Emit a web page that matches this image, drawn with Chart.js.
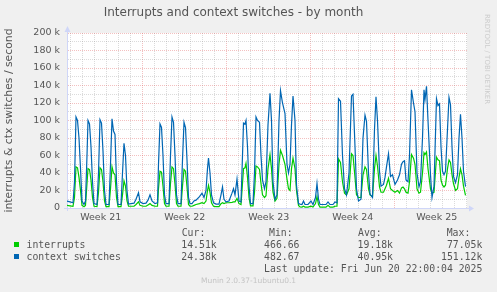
<!DOCTYPE html>
<html><head><meta charset="utf-8">
<script src="https://cdn.jsdelivr.net/npm/chart.js@4.4.1/dist/chart.umd.min.js"></script>
<style>
html,body{margin:0;padding:0;background:#f0f0f0;}
#wrap{position:relative;width:497px;height:292px;overflow:hidden;background:#f0f0f0;}
canvas{position:absolute;left:0;top:0;}
.m{position:absolute;font-family:"DejaVu Sans Mono",monospace;font-size:9.8px;line-height:12px;color:#555;white-space:pre;}
.r{text-align:right;}
.sq{position:absolute;width:5px;height:5px;}
#foot{position:absolute;left:0;width:497px;top:275.5px;text-align:center;font-family:"DejaVu Sans",sans-serif;font-size:7.5px;line-height:10px;color:#c4c4c4;}
#rrd{position:absolute;left:483px;top:14px;writing-mode:vertical-rl;font-family:"DejaVu Sans",sans-serif;font-size:7px;line-height:8px;color:#cccccc;}
</style></head>
<body>
<div id="wrap">
<canvas id="c" width="497" height="292"></canvas>
<div id="rrd">RRDTOOL / TOBI OETIKER</div>
<div class="m" style="left:181.7px;top:227px">Cur:</div>
<div class="m" style="left:269px;top:227px">Min:</div>
<div class="m" style="left:358px;top:227px">Avg:</div>
<div class="m" style="left:446.7px;top:227px">Max:</div>
<div class="sq" style="left:14px;top:242px;background:#00cc00"></div>
<div class="m" style="left:26.5px;top:239px">interrupts</div>
<div class="m r" style="right:280.3px;top:239px">14.51k</div>
<div class="m r" style="right:197.5px;top:239px">466.66</div>
<div class="m r" style="right:104px;top:239px">19.18k</div>
<div class="m r" style="right:14.7px;top:239px">77.05k</div>
<div class="sq" style="left:14px;top:254px;background:#0066b3"></div>
<div class="m" style="left:26.5px;top:251px">context switches</div>
<div class="m r" style="right:280.3px;top:251px">24.38k</div>
<div class="m r" style="right:197.5px;top:251px">482.67</div>
<div class="m r" style="right:104px;top:251px">40.95k</div>
<div class="m r" style="right:14.7px;top:251px">151.12k</div>
<div class="m r" style="right:14.7px;top:263px">Last update: Fri Jun 20 22:00:04 2025</div>
<div id="foot">Munin 2.0.37-1ubuntu0.1</div>
</div>
<script>
// time axis: hours since the left edge of the graph (2 h per pixel, 800 h wide)
const hours = [0,6,12,15,18,21,24,27,30,34,37,40,42,45,48,51,54,60,63,66,69,72,75,78,84,87,90,93,96,99,102,108,111,114,117,120,123,
128,134,138,143,146,152,158,162,166,170,176,181,
183,186,189,192,195,198,204,207,210,213,216,219,222,228,231,234,237,240,243,
246,250,254,258,265,270,274,278,281,283,286,289,293,298,304,308,311,314,318,324,330,333,336,340,344,348,
351,353,356,358,361,364,367,372,375,378,381,385,388,391,395,398,402,406,
409,412,416,420,424,427,431,436,440,443,446,449,452,456,459,463,
466,470,473,476,482,488,492,497,500,503,506,512,518,522,526,532,536,540,
543,547,551,555,559,564,569,572,576,579,583,588,592,596,599,603,606,611,615,618,621,625,628,633,636,639,643,647,651,656,661,665,669,672,675,
678,682,685,689,693,696,700,704,707,711,714,716,719,722,727,730,734,739,742,745,748,751,754,757,761,764,767,770,773,777,781,784,787,790,793,797];

// context switches per second, in thousands
const contextSwitches = [8,7,6,30,104,100,80,45,8,4,8,60,100,96,70,30,5,4,40,101,97,65,20,4,4,50,102,88,84,30,4,4,40,74,60,20,4.5,
5,5.5,10,17.5,7,5,5.5,9,15,8,5,6,
50,96,92,60,15,5,5,60,104,98,60,15,5,5,55,98,92,55,12,
5,5,8,9,13,17,12,20,45,57,40,15,6,4.5,4.5,15,24,10,7,8,17,22,15,33,8,7,
60,97,96,100,70,25,5,5,40,104,100,98,60,32,22,30,95,131,
100,30,10,15,100,134,120,108,50,40,50,95,128,100,26,5,
4.5,4,8,4,4,8,4,12,28,10,4,4,4,7,4,4,7,6,
125,122,60,22,15,40,128,130,70,22,8,10,80,106,99,40,16,12,90,127,100,42,25,27,35,47,62,36,38,27,32,38,50,53,54,
32,30,60,135,120,110,40,24,30,80,135,124,139,100,38,12,25,125,117,119,70,42,38,42,90,126.5,118,70,36,29,38,80,107,80,42,24.38];

// interrupts per second, in thousands
const interrupts = [3,2.5,2,12,47,46,35,20,3,1.5,3,28,45,44,32,12,2,1.5,18,46,44,30,8,1.5,1.5,22,47,40,38,12,1.5,1.5,15,31,25,8,2,
2,2,4,7,3,2,2,3.5,5,3,2,2,
22,42,41,25,5,2,2,28,47,45,27,5,2,2,25,44,42,24,4,
2,2,3,4,5,6,5,8,20,26,18,6,2,1.5,1.5,5,6,5,6,6,6.5,7,7,11,5,4,
28,45,46,51,35,12,2.5,2.5,18,48,47,44,28,15,12,14,45,61,
45,18,8,11,50,66,60,50,33,22,20,45,57,45,20,3,
1.2,1,2,1,1,2,1,5,13,4,1,1,1,3,1,1,2,2,
56,52,30,17,15,22,62,60,35,15,12,12,38,47,44,22,15,13,45,60,48,24,18,18,22,26,34,22,20,18,20,17,23,24,22,
18,17,30,61,57,50,22,17,18,40,63,61,64,45,22,17,18,58,55,54,32,26,24,26,45,55,52,38,28,20,22,35,45,38,25,14.51];

// x grid: day lines, week boundaries (red), week labels centred between boundaries
const dayLines = Array.from({length:34}, (_, k) => 7.4 + 24 * k);
const weekBoundaries = [151.4, 319.4, 487.4, 655.4];
const weekLabelPos = [67.4, 235.4, 403.4, 571.4, 739.4];
const weekLabels = ['Week 21', 'Week 22', 'Week 23', 'Week 24', 'Week 25'];
// y grid (thousands)
const yTicks = Array.from({length:21}, (_, i) => i * 10);

const near = (a, b) => Math.abs(a - b) < 0.05;
const GRID = 'rgba(143,143,143,0.32)';
const MGRID = 'rgba(222,79,79,0.36)';
const AXIS = '#cfd6f8';

const decor = {
  id: 'decor',
  beforeDraw(chart) {
    const {ctx, chartArea: a} = chart;
    ctx.save();
    ctx.fillStyle = '#ffffff';
    ctx.fillRect(a.left, a.top, a.right - a.left, a.bottom - a.top);
    ctx.restore();
  },
  afterDraw(chart) {
    const {ctx, chartArea: a} = chart;
    ctx.save();
    ctx.strokeStyle = AXIS; ctx.fillStyle = AXIS; ctx.lineWidth = 1;
    ctx.beginPath();
    ctx.moveTo(a.right, Math.round(a.bottom) + 0.5); ctx.lineTo(a.right + 3, Math.round(a.bottom) + 0.5);
    ctx.moveTo(Math.round(a.left) + 0.5, a.top); ctx.lineTo(Math.round(a.left) + 0.5, a.top - 2);
    ctx.moveTo(Math.round(a.left) - 3, Math.round(a.bottom) + 0.5); ctx.lineTo(a.left, Math.round(a.bottom) + 0.5);
    ctx.moveTo(Math.round(a.left) + 0.5, a.bottom); ctx.lineTo(Math.round(a.left) + 0.5, a.bottom + 3);
    ctx.stroke();
    const by = Math.round(a.bottom) + 0.5, lx = Math.round(a.left) + 0.5;
    ctx.beginPath(); ctx.moveTo(a.right + 2, by - 3); ctx.lineTo(a.right + 7, by); ctx.lineTo(a.right + 2, by + 3); ctx.closePath(); ctx.fill();
    ctx.beginPath(); ctx.moveTo(lx - 3, a.top - 1); ctx.lineTo(lx, a.top - 7); ctx.lineTo(lx + 3, a.top - 1); ctx.closePath(); ctx.fill();
    ctx.restore();
  }
};

const pts = arr => hours.map((h, i) => ({x: h, y: arr[i]}));

new Chart(document.getElementById('c'), {
  type: 'line',
  data: {
    datasets: [
      {label: 'interrupts', data: pts(interrupts), borderColor: '#00cc00', borderWidth: 1.2, pointRadius: 0, tension: 0, fill: false, order: 1},
      {label: 'context switches', data: pts(contextSwitches), borderColor: '#0066b3', borderWidth: 1.2, pointRadius: 0, tension: 0, fill: false, order: 0}
    ]
  },
  options: {
    responsive: false, animation: false, devicePixelRatio: 1,
    layout: {padding: {left: 0, right: 30, top: 0, bottom: 0}},
    plugins: {
      legend: {display: false}, tooltip: {enabled: false},
      title: {display: true, text: 'Interrupts and context switches - by month', color: '#555',
        font: {family: 'DejaVu Sans', size: 12, weight: 'normal', lineHeight: 1.2}, padding: {top: 6, bottom: 12.6}}
    },
    scales: {
      x: {
        type: 'linear', min: 0, max: 800,
        afterBuildTicks: s => { s.ticks = dayLines.concat(weekLabelPos).sort((a, b) => a - b).map(v => ({value: v})); },
        afterFit: s => { s.height = 84; },
        ticks: {autoSkip: false, maxRotation: 0, color: '#555', font: {family: 'DejaVu Sans', size: 9.5}, padding: 4,
          callback: v => { const i = weekLabelPos.findIndex(p => near(p, v)); return i >= 0 ? weekLabels[i] : ''; }},
        grid: {drawTicks: false, lineWidth: 1,
          color: c => { const v = c.tick ? c.tick.value : -1;
            if (weekLabelPos.some(p => near(p, v))) return 'rgba(0,0,0,0)';
            return weekBoundaries.some(p => near(p, v)) ? MGRID : GRID; }},
        border: {color: AXIS, dash: [1, 1]}
      },
      y: {
        min: 0, max: 200,
        afterBuildTicks: s => { s.ticks = yTicks.map(v => ({value: v})); },
        afterFit: s => { s.width = 67; },
        ticks: {autoSkip: false, color: '#555', font: {family: 'DejaVu Sans', size: 9.5}, padding: 7,
          callback: v => v % 20 === 0 ? (v === 0 ? '0' : v + ' k') : ''},
        grid: {drawTicks: false, lineWidth: 1,
          color: c => { const v = c.tick ? c.tick.value : -1;
            if (v === 0) return 'rgba(0,0,0,0)';
            return v % 20 === 0 ? MGRID : GRID; }},
        border: {color: AXIS, dash: [1, 1]},
        title: {display: true, text: 'interrupts & ctx switches / second', color: '#555',
          font: {family: 'DejaVu Sans', size: 10.8}, padding: {top: 3, bottom: 0}}
      }
    }
  },
  plugins: [decor]
});
</script>
</body></html>
